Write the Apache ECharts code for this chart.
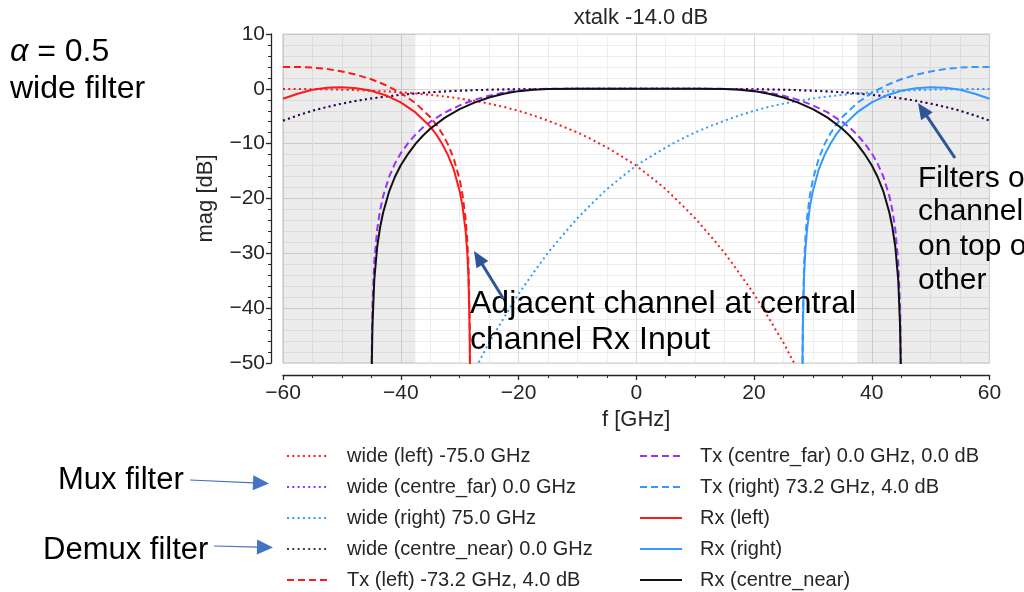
<!DOCTYPE html>
<html><head><meta charset="utf-8">
<script src="https://cdn.jsdelivr.net/npm/echarts@6/dist/echarts.min.js"></script>
<style>html,body{margin:0;padding:0;background:#fff}#c{width:1024px;height:592px}</style>
</head><body><div id="c"></div>
<script>
const FONT = '"Liberation Sans", Arial, sans-serif';

// ---- data ----
const titleText = 'xtalk -14.0 dB';
const seriesNames = [
  'wide (left) -75.0 GHz', 'wide (centre_far) 0.0 GHz', 'wide (right) 75.0 GHz',
  'wide (centre_near) 0.0 GHz', 'Tx (left) -73.2 GHz, 4.0 dB',
  'Tx (centre_far) 0.0 GHz, 0.0 dB', 'Tx (right) 73.2 GHz, 4.0 dB',
  'Rx (left)', 'Rx (right)', 'Rx (centre_near)'
];
const shadeBands = [[-60, -37.5], [37.5, 60]];

const fWideLeft = [-60,-57.5,-55,-52.5,-50,-47.5,-45,-42.5,-40,-37.5,-35,-32.5,-30,-27.5,-25,-22.5,-20,-17.5,-15,-12.5,-10,-7.5,-5,-2.5,0,2.5,5,7.5,10,12.5,15,17.5,20,22.5,25,27.5,30];
const wideLeft  = [-0.02,-0.035,-0.06,-0.10,-0.16,-0.24,-0.34,-0.47,-0.63,-0.84,-1.1,-1.40,-1.75,-2.18,-2.7,-3.3,-4.0,-4.85,-5.8,-6.85,-7.95,-9.25,-10.7,-12.3,-14.0,-16.1,-18.3,-20.9,-23.6,-26.7,-29.9,-33.6,-37.4,-41.8,-46.3,-51.4,-56.8];

const fWideRight = [-30,-27.5,-25,-22.5,-20,-17.5,-15,-12.5,-10,-7.5,-5,-2.5,0,2.5,5,7.5,10,12.5,15,17.5,20,22.5,25,27.5,30,32.5,35,37.5,40,42.5,45,47.5,50,52.5,55,57.5,60];
const wideRight  = [-56.8,-51.4,-46.3,-41.8,-37.4,-33.6,-29.9,-26.7,-23.6,-20.9,-18.3,-16.1,-14.0,-12.3,-10.7,-9.25,-7.95,-6.85,-5.8,-4.85,-4.0,-3.3,-2.7,-2.18,-1.75,-1.40,-1.1,-0.84,-0.63,-0.47,-0.34,-0.24,-0.16,-0.10,-0.06,-0.035,-0.02];

const fWideCentre = [-60,-57.5,-55,-52.5,-50,-47.5,-45,-42.5,-40,-37.5,-35,-32.5,-30,-27.5,-25,-22.5,-20,-17.5,-15,-12.5,-10,-5,0,5,10,12.5,15,17.5,20,22.5,25,27.5,30,32.5,35,37.5,40,42.5,45,47.5,50,52.5,55,57.5,60];
const wideCentreFar  = [-5.8,-4.85,-4.0,-3.3,-2.7,-2.18,-1.75,-1.40,-1.1,-0.84,-0.63,-0.47,-0.34,-0.24,-0.16,-0.10,-0.06,-0.035,-0.02,-0.01,0,0,0,0,0,-0.01,-0.02,-0.035,-0.06,-0.10,-0.16,-0.24,-0.34,-0.47,-0.63,-0.84,-1.1,-1.40,-1.75,-2.18,-2.7,-3.3,-4.0,-4.85,-5.8];
const wideCentreNear = [-5.8,-4.85,-4.0,-3.3,-2.7,-2.18,-1.75,-1.40,-1.1,-0.84,-0.63,-0.47,-0.34,-0.24,-0.16,-0.10,-0.06,-0.035,-0.02,-0.01,0,0,0,0,0,-0.01,-0.02,-0.035,-0.06,-0.10,-0.16,-0.24,-0.34,-0.47,-0.63,-0.84,-1.1,-1.40,-1.75,-2.18,-2.7,-3.3,-4.0,-4.85,-5.8];

const fLeft  = [-60,-57.5,-55,-52.5,-50,-47.5,-45,-42.5,-40,-37.5,-35,-34,-33,-32,-31,-30,-29.5,-29,-28.7,-28.5,-28.3,-28.25,-28.2];
const txLeft = [4.0,3.99,3.88,3.61,3.17,2.56,1.74,0.66,-0.74,-2.60,-5.15,-6.49,-8.09,-10.08,-12.71,-16.53,-19.35,-23.56,-27.64,-32.08,-41.6,-47.6,-62];
const rxLeft = [-1.82,-0.90,-0.18,0.21,0.31,0.12,-0.35,-1.21,-2.47,-4.30,-6.88,-8.26,-9.96,-12.04,-14.71,-18.62,-21.47,-25.73,-29.83,-34.29,-43.82,-49.8,-64];

const fRight  = [28.2,28.25,28.3,28.5,28.7,29,29.5,30,31,32,33,34,35,37.5,40,42.5,45,47.5,50,52.5,55,57.5,60];
const txRight = [-62,-47.6,-41.6,-32.08,-27.64,-23.56,-19.35,-16.53,-12.71,-10.08,-8.09,-6.49,-5.15,-2.60,-0.74,0.66,1.74,2.56,3.17,3.61,3.88,3.99,4.0];
const rxRight = [-64,-49.8,-43.82,-34.29,-29.83,-25.73,-21.47,-18.62,-14.71,-12.04,-9.96,-8.26,-6.88,-4.30,-2.47,-1.21,-0.35,0.12,0.31,0.21,-0.18,-0.90,-1.82];

const fCentre = [-45,-44.95,-44.9,-44.8,-44.5,-44,-43.5,-43,-42,-41,-40,-38.75,-37.5,-36.25,-35,-32.5,-30,-27.5,-25,-22.5,-20,-17.5,-15,-10,-5,0,5,10,15,17.5,20,22.5,25,27.5,30,32.5,35,36.25,37.5,38.75,40,41,42,43,43.5,44,44.5,44.8,44.9,44.95,45];
const txCentre = [-62,-51.6,-45.6,-39.6,-31.6,-25.6,-22.1,-19.61,-16.11,-13.64,-11.74,-9.9,-8.34,-7.06,-6.02,-4.31,-3.01,-2.01,-1.25,-0.69,-0.30,-0.075,0,0,0,0,0,0,0,-0.075,-0.30,-0.69,-1.25,-2.01,-3.01,-4.31,-6.02,-7.06,-8.34,-9.9,-11.74,-13.64,-16.11,-19.61,-22.1,-25.6,-31.6,-39.6,-45.6,-51.6,-62];
const rxCentre = [-66,-55.0,-49.0,-43.0,-34.9,-28.8,-25.2,-22.6,-18.81,-16.08,-13.94,-11.85,-10.04,-8.55,-7.28,-5.25,-3.69,-2.51,-1.57,-0.89,-0.42,-0.15,-0.04,0,0,0,0,0,-0.04,-0.15,-0.42,-0.89,-1.57,-2.51,-3.69,-5.25,-7.28,-8.55,-10.04,-11.85,-13.94,-16.08,-18.81,-22.6,-25.2,-28.8,-34.9,-43.0,-49.0,-55.0,-66];

// ---- styling ----
const RED = '#ff1a1a', BLUE = '#3399ff', PURPLE = '#9b30ff', BLACK = '#111111';
const DOT = [2, 3.3], DASH = [7, 4];
const INK = '#262626';

function pairs(xs, ys) { return xs.map((x, i) => [x, ys[i]]); }
function line(name, xs, ys, color, type, z, opacity) {
  return {
    name, type: 'line', data: pairs(xs, ys), symbol: 'none', showSymbol: false,
    smooth: false, clip: true, silent: true, animation: false, z,
    lineStyle: { color, width: 2, type, opacity: opacity == null ? 1 : opacity, cap: 'butt', join: 'round' },
    itemStyle: { color }
  };
}

const series = [
  { name: 'shade', type: 'line', data: [], z: 1, silent: true, animation: false,
    markArea: { silent: true, itemStyle: { color: 'rgba(0,0,0,0.075)' },
      data: shadeBands.map(b => [{ xAxis: b[0] }, { xAxis: b[1] }]) } },
  line(seriesNames[0], fWideLeft, wideLeft, RED, DOT, 3),
  line(seriesNames[1], fWideCentre, wideCentreFar, PURPLE, DOT, 3),
  line(seriesNames[2], fWideRight, wideRight, BLUE, DOT, 3),
  line(seriesNames[3], fWideCentre, wideCentreNear, '#000000', DOT, 3, 0.75),
  line(seriesNames[4], fLeft, txLeft, RED, DASH, 4),
  line(seriesNames[5], fCentre, txCentre, PURPLE, DASH, 4),
  line(seriesNames[6], fRight, txRight, BLUE, DASH, 4),
  line(seriesNames[7], fLeft, rxLeft, RED, 'solid', 5),
  line(seriesNames[8], fRight, rxRight, BLUE, 'solid', 5),
  line(seriesNames[9], fCentre, rxCentre, BLACK, 'solid', 5)
];

const minus = v => String(v).replace('-', '\u2212');
const axisCommon = {
  type: 'value',
  axisLine: { show: true, onZero: false, lineStyle: { color: INK, width: 1.3 } },
  axisTick: { show: true, inside: false, length: 5, lineStyle: { color: INK, width: 1.3 } },
  minorTick: { show: true, length: 3, lineStyle: { color: INK, width: 1 } },
  splitLine: { show: true, lineStyle: { color: '#dadada', width: 1 } },
  minorSplitLine: { show: true, lineStyle: { color: '#ededed', width: 1 } },
  nameTextStyle: { fontFamily: FONT, fontSize: 22, color: INK },
  nameLocation: 'middle'
};

function txt(text, x, baseline, fs) {
  return {
    type: 'text', x, y: baseline - 0.3465 * fs, silent: true, z: 100,
    style: { text, fontFamily: FONT, fontSize: fs, fill: '#000', align: 'left', verticalAlign: 'middle' }
  };
}
function arrow(x1, y1, x2, y2, color, width, headLen, headHalf) {
  const dx = x2 - x1, dy = y2 - y1, L = Math.hypot(dx, dy);
  const ux = dx / L, uy = dy / L, nx = -uy, ny = ux;
  const bx = x2 - headLen * ux, by = y2 - headLen * uy;
  return [
    { type: 'line', silent: true, z: 100, shape: { x1, y1, x2: bx + ux, y2: by + uy }, style: { stroke: color, lineWidth: width } },
    { type: 'polygon', silent: true, z: 100, shape: { points: [[x2, y2], [bx + headHalf * nx, by + headHalf * ny], [bx - headHalf * nx, by - headHalf * ny]] }, style: { fill: color } }
  ];
}

const graphics = [
  { type: 'text', x: 10, y: 63 - 0.3465 * 32, silent: true, z: 100,
    style: { text: '{a|α} = 0.5', fontFamily: FONT, fontSize: 32, fill: '#000', verticalAlign: 'middle',
      rich: { a: { fontStyle: 'italic', fontFamily: FONT, fontSize: 32, fill: '#000' } } } },
  txt('wide filter', 10, 100, 32),
  txt('Adjacent channel at central', 470, 315, 32),
  txt('channel Rx Input', 470, 351, 32),
  txt('Filters of', 918, 189, 30),
  txt('channel', 918, 222, 30),
  txt('on top of', 918, 257, 30),
  txt('other', 918, 291, 30),
  txt('Mux filter', 58, 491, 31),
  txt('Demux filter', 43, 561, 31),
  ...arrow(503, 298, 474, 251, '#2f5597', 3, 16, 7),
  ...arrow(955, 158, 918, 103, '#2f5597', 3, 16, 7),
  ...arrow(190, 480, 269, 483.5, '#4472c4', 1.2, 16, 7.5),
  ...arrow(214, 546, 273, 547.5, '#4472c4', 1.2, 16, 7.5)
];

const legendText = { fontFamily: FONT, fontSize: 20, color: INK, padding: [0, 0, 0, 13], lineHeight: 20 };
const legendCommon = {
  orient: 'vertical', top: 446, padding: 0, itemWidth: 42, itemHeight: 14, itemGap: 11,
  selectedMode: false, textStyle: legendText,
  itemStyle: { color: 'transparent', borderColor: 'transparent', borderWidth: 0, opacity: 0 }
};
const option = {
  backgroundColor: '#ffffff',
  animation: false,
  title: { text: titleText, left: 636, top: 2, textAlign: 'center',
    textStyle: { fontFamily: FONT, fontSize: 22, fontWeight: 'normal', color: INK } },
  grid: { left: 283, right: 34.5, top: 34, bottom: 229, show: true, borderColor: '#cccccc', borderWidth: 1.2,
    backgroundColor: 'transparent', containLabel: false, outerBoundsMode: 'none' },
  xAxis: Object.assign({}, axisCommon, {
    min: -60, max: 60, interval: 20, offset: 12,
    minorTick: Object.assign({}, axisCommon.minorTick, { splitNumber: 4 }),
    axisLabel: { fontFamily: FONT, fontSize: 21, color: INK, margin: 8, formatter: minus, showMinLabel: true, showMaxLabel: true },
    name: 'f [GHz]', nameGap: 30
  }),
  yAxis: Object.assign({}, axisCommon, {
    min: -50, max: 10, interval: 10, offset: 12,
    minorTick: Object.assign({}, axisCommon.minorTick, { splitNumber: 5 }),
    axisLabel: { fontFamily: FONT, fontSize: 21, color: INK, margin: 6, formatter: minus, showMinLabel: true, showMaxLabel: true },
    name: 'mag [dB]', nameGap: 54, nameRotate: 90
  }),
  legend: [
    Object.assign({ data: seriesNames.slice(0, 5), left: 286 }, legendCommon),
    Object.assign({ data: seriesNames.slice(5), left: 639 }, legendCommon)
  ],
  graphic: graphics,
  series
};
const chart = echarts.init(document.getElementById('c'), null, { renderer: 'canvas' });
chart.setOption(option);
</script></body></html>
